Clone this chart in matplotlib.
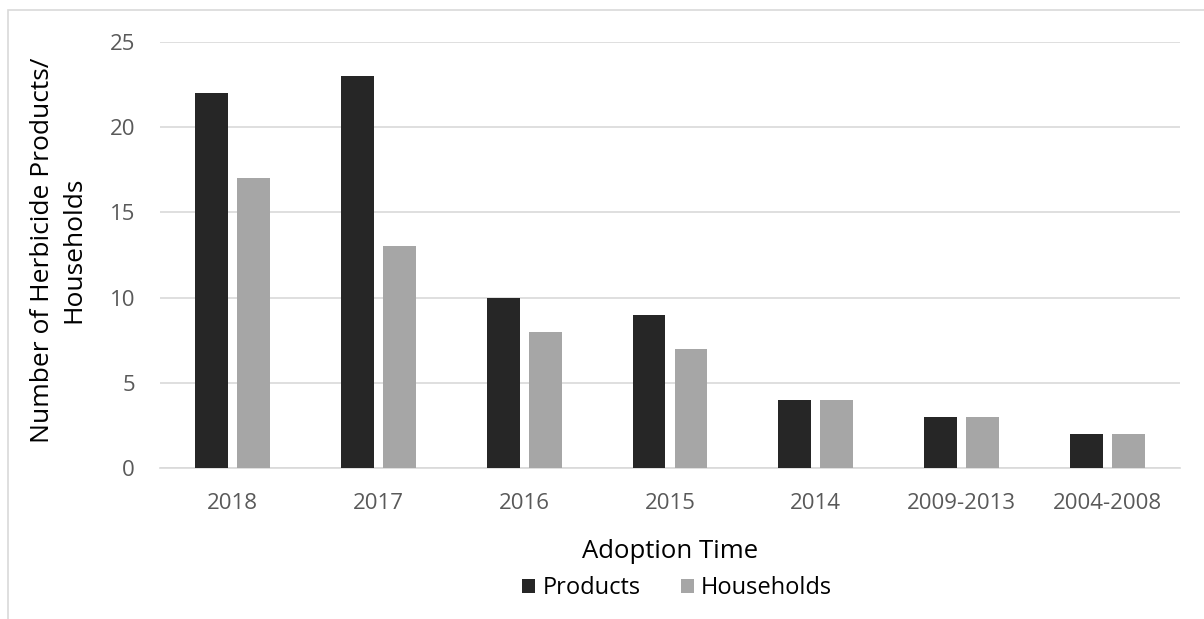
import matplotlib.pyplot as plt
import numpy as np
from matplotlib.patches import Rectangle

categories = ["2018", "2017", "2016", "2015", "2014", "2009-2013", "2004-2008"]
products = [22, 23, 10, 9, 4, 3, 2]
households = [17, 13, 8, 7, 4, 3, 2]

plt.rcParams['font.family'] = ['Open Sans', 'DejaVu Sans']

W, H = 1204, 619
fig = plt.figure(figsize=(W/100, H/100), dpi=100)
ax = fig.add_axes([160/W, 1-468/H, 1020/W, 426/H])

x = np.arange(len(categories))
w = 0.226
off = 0.144
ax.bar(x - off, products, width=w, color='#262626', label='Products', zorder=3)
ax.bar(x + off, households, width=w, color='#a6a6a6', label='Households', zorder=3)

ax.set_xlim(-0.5, len(categories) - 0.5)
ax.set_ylim(0, 25)
ax.set_yticks([0, 5, 10, 15, 20, 25])
ax.set_xticks(x)
ax.set_xticklabels(categories)
ax.yaxis.grid(True, color='#d9d9d9', linewidth=1.2, zorder=0)
ax.set_axisbelow(True)
for s in ['top', 'right', 'left']:
    ax.spines[s].set_visible(False)
ax.spines['bottom'].set_color('#d9d9d9')
ax.spines['bottom'].set_linewidth(1.2)
ax.tick_params(axis='both', length=0, labelsize=16, labelcolor='#595959')
ax.tick_params(axis='y', pad=18)
ax.tick_params(axis='x', pad=18)

fig.text(58/W, 1-250/H, "Number of Herbicide Products/\nHouseholds", rotation=90,
         ha='center', va='center', multialignment='center', fontsize=19,
         color='#000000', linespacing=1.35)
fig.text(670/W, 1-552/H, "Adoption Time", ha='center', va='center', fontsize=18.5,
         color='#000000')

leg = ax.legend(loc='center', bbox_to_anchor=((677-160)/1020, (468-588)/426), ncol=2,
                frameon=False, fontsize=17, handlelength=0.55, handleheight=0.55,
                handletextpad=0.3, columnspacing=1.7, borderpad=0)
for t in leg.get_texts():
    t.set_color('#000000')

fig.patches.append(Rectangle((8/W, -0.1), 1.2, 1 - 10/H + 0.1, transform=fig.transFigure,
                             fill=False, edgecolor='#d9d9d9', linewidth=1.2))

fig.savefig('out.png', dpi=100)
